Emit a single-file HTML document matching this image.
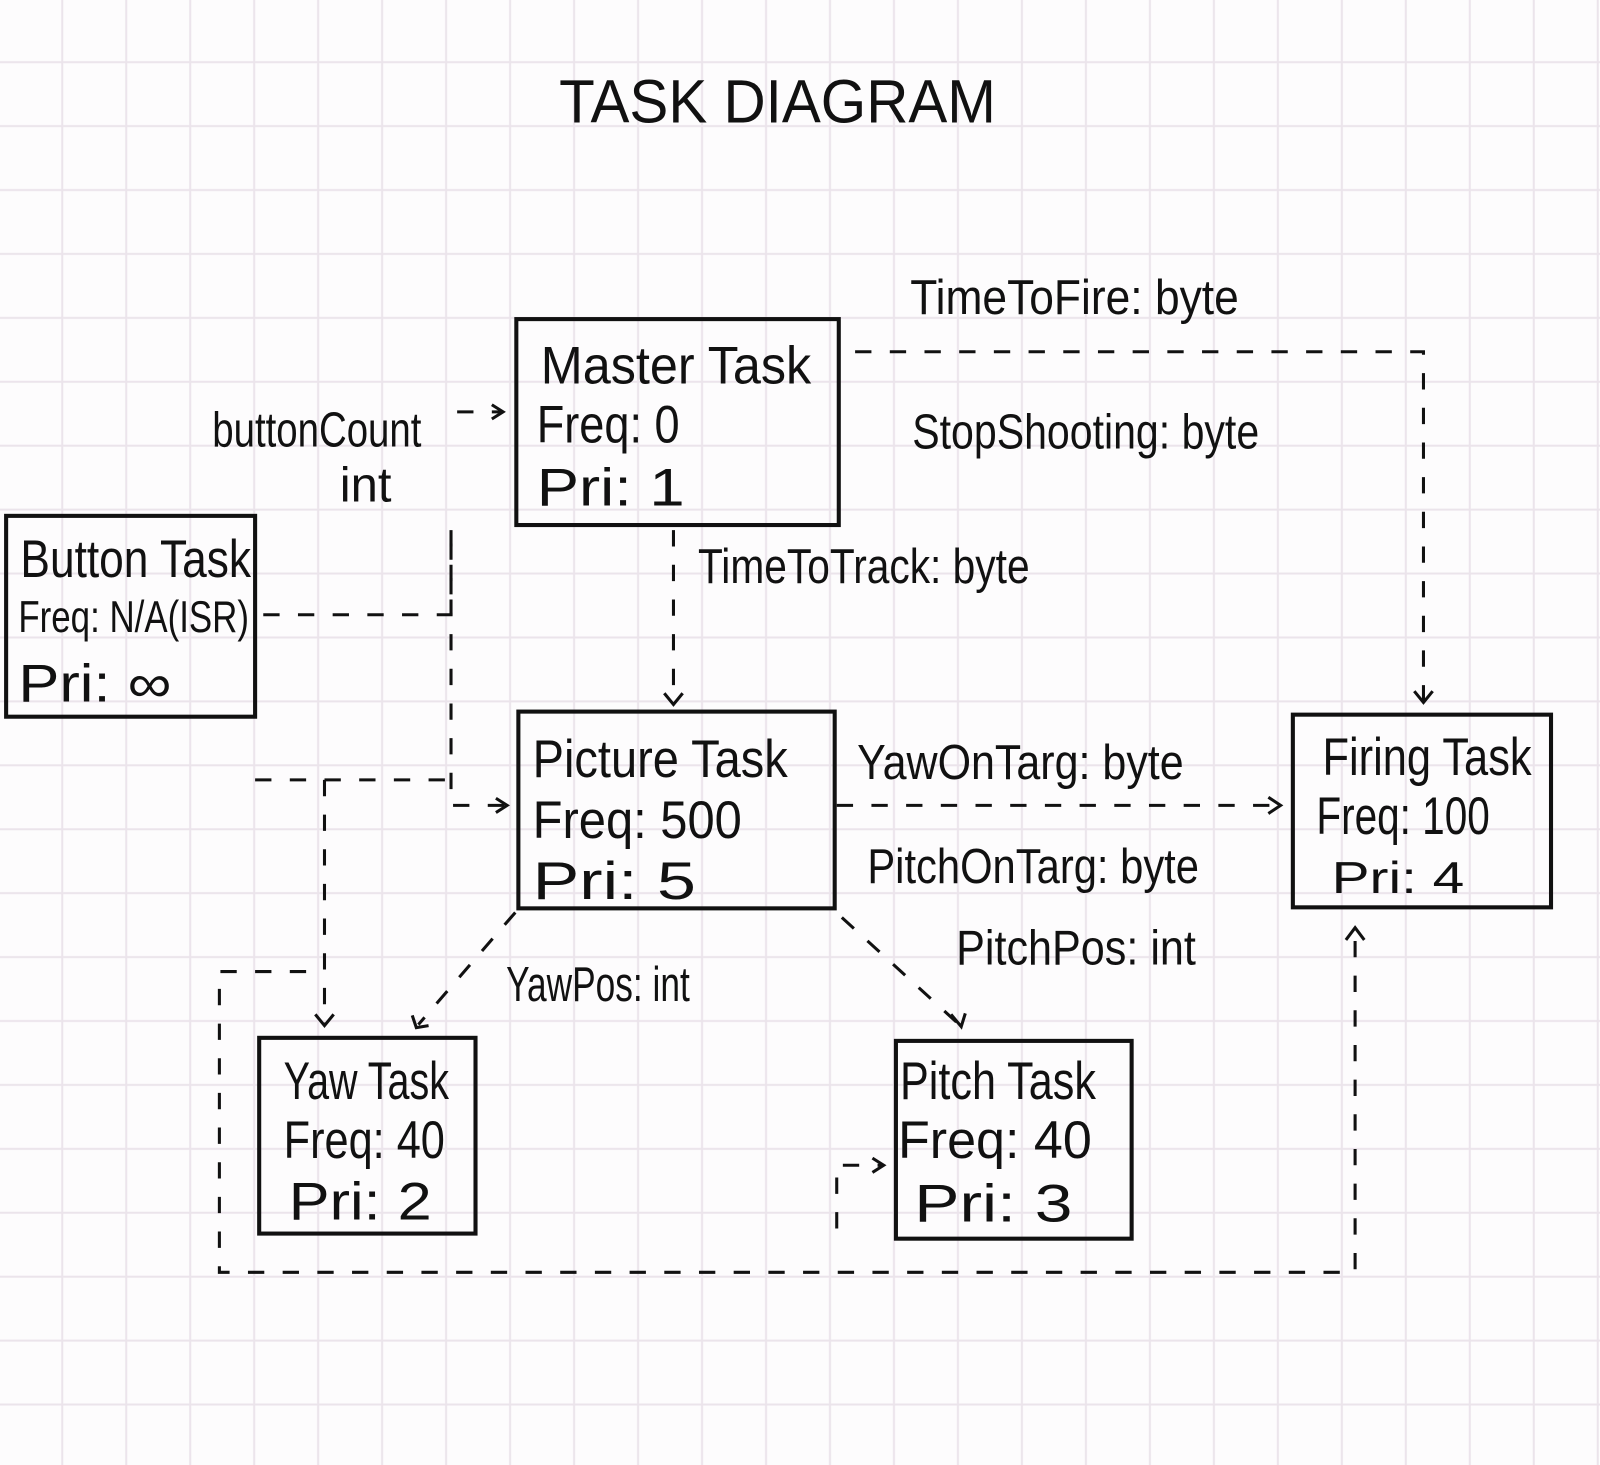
<!DOCTYPE html>
<html><head><meta charset="utf-8"><style>
html,body{margin:0;padding:0;background:#fff}
svg{display:block}
text{font-family:"Liberation Sans Narrow","Liberation Sans",sans-serif;fill:#111}
</style></head><body>
<svg width="1600" height="1465" viewBox="0 0 1568 1437" preserveAspectRatio="none" xmlns="http://www.w3.org/2000/svg">
<defs>
<pattern id="g" width="62.7" height="62.7" patternUnits="userSpaceOnUse" x="0" y="0">
<path d="M61 0V62.7M0 61H62.7" stroke="#ebe4eb" stroke-width="2" fill="none"/>
</pattern>
</defs>
<rect width="1568" height="1437" fill="#fdfcfd"/>
<rect width="1568" height="1437" fill="url(#g)"/>
<g stroke="#111" fill="none" stroke-width="4">
<rect x="506" y="313" width="316" height="202"/>
<rect x="6" y="506" width="244" height="197"/>
<rect x="508" y="698" width="310" height="193"/>
<rect x="1267" y="701" width="253" height="189"/>
<rect x="254" y="1018" width="212" height="192"/>
<rect x="878" y="1021" width="231" height="194"/>
</g>
<g stroke="#111" fill="none" stroke-width="3" stroke-dasharray="16 18">
<path d="M838 345H1395V690"/>
<path d="M258 603H442V520"/>
<path d="M442 520V790H495"/>
<path d="M448 404H492"/>
<path d="M660 520V688"/>
<path d="M250 765H442"/>
<path d="M318 765V1005"/>
<path d="M820 790H1250"/>
<path d="M505 895L410 1005"/>
<path d="M825 900L940 1005"/>
<path d="M300 953H215V1248H1328V915"/>
<path d="M820 1205V1143H865"/>
</g>
<g stroke="#111" fill="none" stroke-width="3">
<path d="M482 397L493 404L482 411"/>
<path d="M486 783L497 790L486 797"/>
<path d="M651 680L660 691L669 680"/>
<path d="M1386 678L1395 689L1404 678"/>
<path d="M1243 782L1255 790L1243 798"/>
<path d="M309 995L318 1006L327 995"/>
<path d="M404 996L408 1008L420 1006"/>
<path d="M932 995L942 1007L946 994"/>
<path d="M1319 922L1328 910L1337 922"/>
<path d="M855 1136L866 1143L855 1150"/>
</g>
<text x="548" y="120" font-size="60" textLength="428" lengthAdjust="spacingAndGlyphs">TASK  DIAGRAM</text>
<g font-size="52">
<text x="530" y="376" textLength="265" lengthAdjust="spacingAndGlyphs">Master Task</text>
<text x="526" y="434" textLength="140" lengthAdjust="spacingAndGlyphs">Freq:  0</text>
<text x="526" y="496" textLength="145" lengthAdjust="spacingAndGlyphs">Pri:   1</text>
<text x="20" y="566" textLength="226" lengthAdjust="spacingAndGlyphs">Button Task</text>
<text x="18" y="620" font-size="44" textLength="226" lengthAdjust="spacingAndGlyphs">Freq: N/A(ISR)</text>
<text x="18" y="688" textLength="150" lengthAdjust="spacingAndGlyphs">Pri:  ∞</text>
<text x="522" y="762" textLength="250" lengthAdjust="spacingAndGlyphs">Picture  Task</text>
<text x="522" y="822" textLength="205" lengthAdjust="spacingAndGlyphs">Freq:  500</text>
<text x="522" y="882" textLength="160" lengthAdjust="spacingAndGlyphs">Pri:   5</text>
<text x="1296" y="760" textLength="205" lengthAdjust="spacingAndGlyphs">Firing Task</text>
<text x="1290" y="818" textLength="170" lengthAdjust="spacingAndGlyphs">Freq: 100</text>
<text x="1305" y="876" font-size="44" textLength="130" lengthAdjust="spacingAndGlyphs">Pri:  4</text>
<text x="278" y="1078" textLength="162" lengthAdjust="spacingAndGlyphs">Yaw Task</text>
<text x="278" y="1136" textLength="158" lengthAdjust="spacingAndGlyphs">Freq: 40</text>
<text x="283" y="1196" textLength="140" lengthAdjust="spacingAndGlyphs">Pri:  2</text>
<text x="882" y="1078" textLength="192" lengthAdjust="spacingAndGlyphs">Pitch  Task</text>
<text x="880" y="1136" textLength="190" lengthAdjust="spacingAndGlyphs">Freq:   40</text>
<text x="896" y="1198" textLength="155" lengthAdjust="spacingAndGlyphs">Pri:    3</text>
</g>
<g font-size="48">
<text x="892" y="308" textLength="322" lengthAdjust="spacingAndGlyphs">TimeToFire: byte</text>
<text x="894" y="440" textLength="340" lengthAdjust="spacingAndGlyphs">StopShooting: byte</text>
<text x="208" y="438" textLength="205" lengthAdjust="spacingAndGlyphs">buttonCount</text>
<text x="333" y="492">int</text>
<text x="684" y="572" textLength="325" lengthAdjust="spacingAndGlyphs">TimeToTrack: byte</text>
<text x="840" y="764" textLength="320" lengthAdjust="spacingAndGlyphs">YawOnTarg: byte</text>
<text x="850" y="866" textLength="325" lengthAdjust="spacingAndGlyphs">PitchOnTarg: byte</text>
<text x="937" y="946" textLength="235" lengthAdjust="spacingAndGlyphs">PitchPos: int</text>
<text x="496" y="982" textLength="180" lengthAdjust="spacingAndGlyphs">YawPos: int</text>
</g>
</svg>
</body></html>
